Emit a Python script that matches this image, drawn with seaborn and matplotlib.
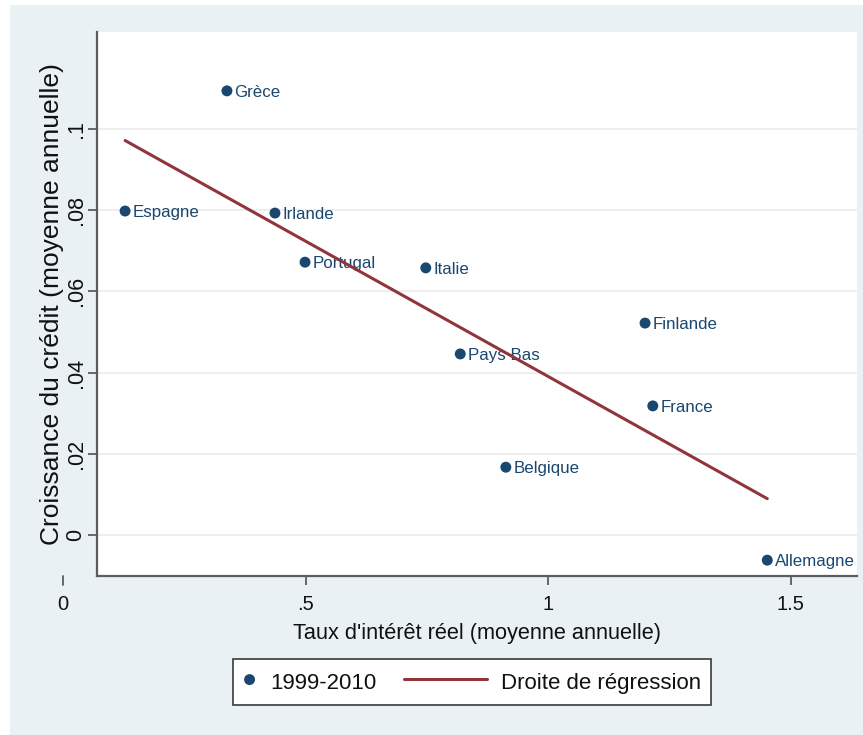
import numpy as np
import pandas as pd
import matplotlib
matplotlib.use("Agg")
import matplotlib.pyplot as plt
import matplotlib.transforms as mtransforms
from matplotlib.legend_handler import HandlerLine2D
from matplotlib.patches import Rectangle
import seaborn as sns

# Pays de la zone euro, 1999-2010
pays = ["Grèce", "Espagne", "Irlande", "Portugal", "Italie",
        "Pays Bas", "Finlande", "France", "Belgique", "Allemagne"]
taux_reel = [0.338, 0.128, 0.437, 0.499, 0.748,
             0.819, 1.200, 1.216, 0.913, 1.452]
croissance_credit = [0.1094, 0.0798, 0.0793, 0.0672, 0.0658,
                     0.0446, 0.0522, 0.0318, 0.0167, -0.0062]

x_ticks = [0, 0.5, 1, 1.5]
x_tick_labels = ["0", ".5", "1", "1.5"]
y_ticks = [0, 0.02, 0.04, 0.06, 0.08, 0.1]
y_tick_labels = ["0", ".02", ".04", ".06", ".08", ".1"]

df = pd.DataFrame({"pays": pays, "taux": taux_reel, "credit": croissance_credit})

NAVY = "#1a476f"
MAROON = "#90353b"
BG = "#e9f1f4"
AXIS_GREY = "#5c5c5c"

sns.set_theme(style="white")
plt.rcParams["font.family"] = ["Liberation Sans", "DejaVu Sans"]

W, H = 863, 735
fig = plt.figure(figsize=(W / 100, H / 100), dpi=100, facecolor="white")
fig.patches.append(Rectangle((10 / W, 0), 1 - 10 / W, 1 - 5 / H,
                             transform=fig.transFigure, facecolor=BG,
                             edgecolor="none", zorder=-10))

AX_H_PX = 544
ax = fig.add_axes([97 / W, 1 - 576 / H, 760 / W, AX_H_PX / H])
ax.set_facecolor("white")

sns.scatterplot(data=df, x="taux", y="credit", color=NAVY, s=62,
                edgecolor="none", ax=ax, zorder=3, label="1999-2010",
                legend=False)
sns.regplot(data=df, x="taux", y="credit", scatter=False, ci=None,
            truncate=True, color=MAROON, ax=ax,
            line_kws=dict(lw=2.2, zorder=4, label="Droite de régression"))

for nom, xv, yv in zip(pays, taux_reel, croissance_credit):
    ax.annotate(nom, (xv, yv), xytext=(5.5, -1), textcoords="offset points",
                ha="left", va="center", fontsize=12.2, color=NAVY, zorder=3)

ax.set_yticks(y_ticks, y_tick_labels)
ax.set_xticks(x_ticks, x_tick_labels)
# limits after the ticks, so the 0 tick does not widen the view
ax.set_xlim(0.0701, 1.637)
ax.set_ylim(-0.0101, 0.1239)

ax.grid(axis="y", color="#ebebeb", lw=1.2)
ax.grid(axis="x", visible=False)
ax.set_axisbelow(True)

for side in ("top", "right"):
    ax.spines[side].set_visible(False)
for side in ("left", "bottom"):
    ax.spines[side].set_color(AXIS_GREY)
    ax.spines[side].set_linewidth(1.6)

tick_len = 6.5
x_pad = 7.5
ax.tick_params(axis="both", direction="out", length=tick_len, width=1.3,
               color=AXIS_GREY, labelcolor="#111111")
ax.tick_params(axis="x", labelsize=14.5, pad=x_pad, bottom=True)
ax.tick_params(axis="y", labelsize=15.5, pad=1, left=True)
for lab in ax.get_yticklabels():
    lab.set_rotation(90)
    lab.set_va("center")

# Ticks lying left of the plot region (Stata-style axis range)
xmin, xmax = ax.get_xlim()
base = mtransforms.blended_transform_factory(ax.transData, ax.transAxes)
for val, txt in zip(x_ticks, x_tick_labels):
    if val < xmin:
        ax.plot([val, val], [0, -tick_len / 72 * 100 / AX_H_PX],
                transform=base, clip_on=False, color=AXIS_GREY, lw=1.3,
                scalex=False, scaley=False)
        ax.text(val, 0, txt, fontsize=14.5, color="#111111", ha="center",
                va="top", clip_on=False,
                transform=base + mtransforms.ScaledTranslation(
                    0, -(tick_len + x_pad) / 72, fig.dpi_scale_trans))
ax.set_xlim(0.0701, 1.637)

ax.set_xlabel("Taux d'intérêt réel (moyenne annuelle)", fontsize=15.7,
              color="#111111", labelpad=6)
ax.set_ylabel("Croissance du crédit (moyenne annuelle)", fontsize=19,
              color="#111111", labelpad=1)


class LongLineHandler(HandlerLine2D):
    """Line key that extends leftwards past its handle box."""

    def __init__(self, length_pt, **kw):
        super().__init__(**kw)
        self.length_pt = length_pt

    def get_xdata(self, legend, xdescent, ydescent, width, height, fontsize):
        xdata = np.array([width - self.length_pt, width]) - xdescent
        return xdata, xdata


pts_handle = ax.collections[0]
line_handle = ax.lines[0]
leg = fig.legend(handles=[pts_handle, line_handle],
                 labels=["1999-2010", "Droite de régression"],
                 handler_map={line_handle: LongLineHandler(60)},
                 loc="upper left", bbox_to_anchor=(233 / W, 1 - 659 / H),
                 bbox_transform=fig.transFigure, borderaxespad=0,
                 ncol=2, fontsize=16, scatterpoints=1,
                 handlelength=0.59, handleheight=1.4, handletextpad=0.63,
                 columnspacing=4.4, borderpad=0.45, frameon=True,
                 fancybox=False, framealpha=1, facecolor="white",
                 edgecolor="#3a3a3a")
leg.get_frame().set_linewidth(1.2)
for t in leg.get_texts():
    t.set_color("#111111")

fig.savefig("out.png", dpi=100, facecolor=fig.get_facecolor())
